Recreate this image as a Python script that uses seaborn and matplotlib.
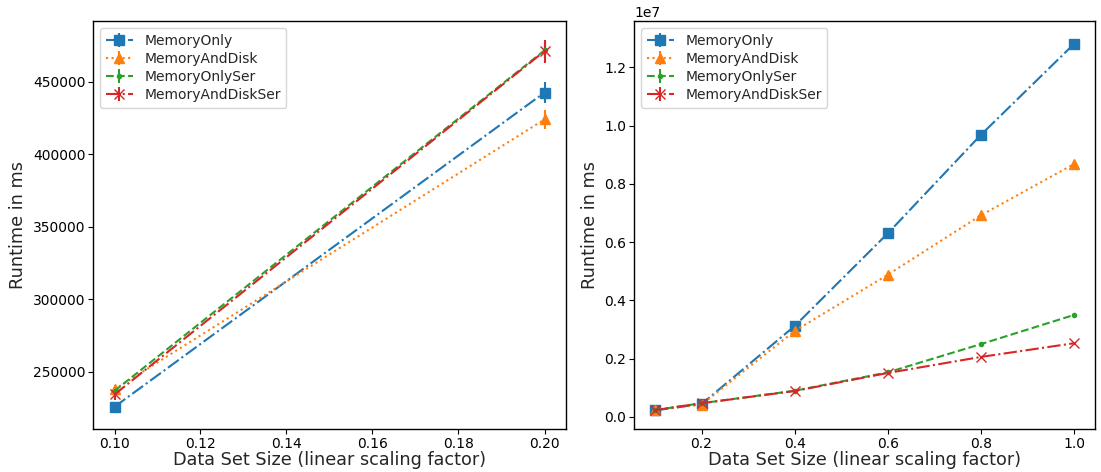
import matplotlib
matplotlib.use("Agg")
import matplotlib.pyplot as plt
import seaborn as sns

sns.set_theme(style="ticks", palette="tab10")
plt.rcParams["font.family"] = ["DejaVu Sans"]

series = ["MemoryOnly", "MemoryAndDisk", "MemoryOnlySer", "MemoryAndDiskSer"]

# Small data sets (scaling factor 0.1 and 0.2), mean runtime and spread in ms
small_sizes = [0.1, 0.2]
small_memory_only = [226000, 442500]
small_memory_and_disk = [238000, 424000]
small_memory_only_ser = [237000, 471500]
small_memory_and_disk_ser = [234500, 471000]
small_err_memory_only = [2500, 7000]
small_err_memory_and_disk = [3000, 6500]
small_err_memory_only_ser = [2500, 5500]
small_err_memory_and_disk_ser = [4000, 8000]

# Full range of scaling factors, mean runtime and spread in ms
sizes = [0.1, 0.2, 0.4, 0.6, 0.8, 1.0]
memory_only = [226000, 442500, 3120000, 6300000, 9680000, 12800000]
memory_and_disk = [238000, 424000, 2950000, 4880000, 6920000, 8680000]
memory_only_ser = [237000, 471500, 900000, 1530000, 2500000, 3500000]
memory_and_disk_ser = [234500, 471000, 890000, 1510000, 2060000, 2530000]
err_memory_only = [2500, 7000, 40000, 60000, 90000, 150000]
err_memory_and_disk = [3000, 6500, 30000, 50000, 60000, 80000]
err_memory_only_ser = [2500, 5500, 10000, 15000, 20000, 30000]
err_memory_and_disk_ser = [4000, 8000, 10000, 15000, 20000, 25000]

styles = {
    "MemoryOnly": dict(marker="s", linestyle="-.", markersize=7),
    "MemoryAndDisk": dict(marker="^", linestyle=":", markersize=7),
    "MemoryOnlySer": dict(marker=".", linestyle="--", markersize=6),
    "MemoryAndDiskSer": dict(marker="x", linestyle="-.", markersize=7),
}
colors = dict(zip(series, sns.color_palette("tab10", 4)))

fig = plt.figure(figsize=(11.01, 4.72), dpi=100)
W, H = 1101, 472
ax_left = fig.add_axes([93 / W, 1 - 429 / H, (566 - 93) / W, (429 - 21) / H])
ax_right = fig.add_axes([634 / W, 1 - 429 / H, (1095 - 634) / W, (429 - 21) / H])
axes = [ax_left, ax_right]

small = {
    "MemoryOnly": (small_memory_only, small_err_memory_only),
    "MemoryAndDisk": (small_memory_and_disk, small_err_memory_and_disk),
    "MemoryOnlySer": (small_memory_only_ser, small_err_memory_only_ser),
    "MemoryAndDiskSer": (small_memory_and_disk_ser, small_err_memory_and_disk_ser),
}
full = {
    "MemoryOnly": (memory_only, err_memory_only),
    "MemoryAndDisk": (memory_and_disk, err_memory_and_disk),
    "MemoryOnlySer": (memory_only_ser, err_memory_only_ser),
    "MemoryAndDiskSer": (memory_and_disk_ser, err_memory_and_disk_ser),
}

for ax, xs, table in ((ax_left, small_sizes, small), (ax_right, sizes, full)):
    for name in series:
        vals, errs = table[name]
        ax.errorbar(xs, vals, yerr=errs, color=colors[name], label=name,
                    linewidth=1.5, elinewidth=1.5, **styles[name])

ax_left.set_xticks([0.10, 0.12, 0.14, 0.16, 0.18, 0.20])
ax_left.set_xticklabels(["0.10", "0.12", "0.14", "0.16", "0.18", "0.20"])
ax_right.set_xticks([0.2, 0.4, 0.6, 0.8, 1.0])

for ax in axes:
    ax.set_xlabel("Data Set Size (linear scaling factor)", fontsize=12.7, labelpad=0)
    ax.set_ylabel("Runtime in ms", fontsize=12.7, labelpad=4)
    ax.tick_params(labelsize=10, length=3.5, width=0.8, pad=2, colors="black")
    for sp in ax.spines.values():
        sp.set_color("black")
        sp.set_linewidth(1.0)
    ax.legend(loc="upper left", fontsize=10, frameon=True, edgecolor="#cccccc",
              handlelength=2, borderpad=0.4, labelspacing=0.3)
ax_right.yaxis.get_offset_text().set_fontsize(10)

fig.savefig("out.png", dpi=100)
